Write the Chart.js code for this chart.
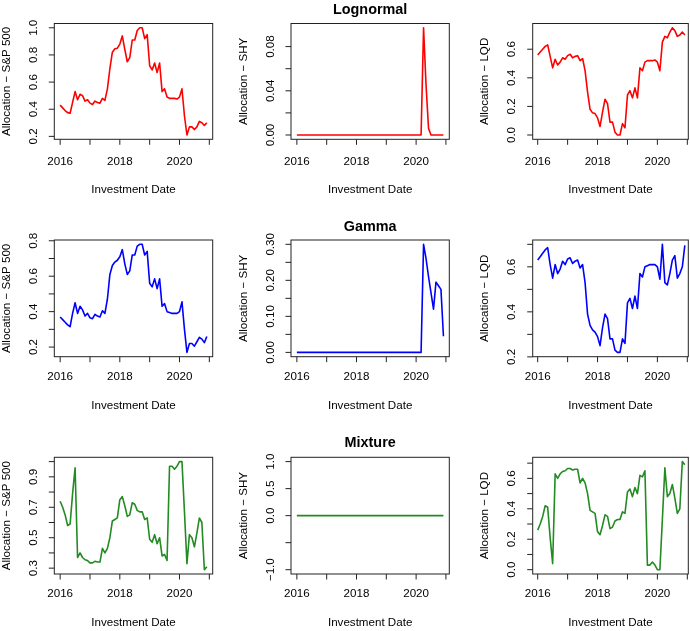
<!DOCTYPE html>
<html>
<head>
<meta charset="utf-8">
<script src="https://cdn.jsdelivr.net/npm/chart.js@4.4.1/dist/chart.umd.min.js"></script>
<style>
html, body { margin: 0; padding: 0; background: #fff; }
#wrap { position: relative; width: 690px; height: 631px; overflow: hidden; }
#wrap canvas { position: absolute; }
</style>
</head>
<body>
<div id="wrap"></div>
<script>
// Месяцы (ось X)
var months = [
  '2016-01','2016-02','2016-03','2016-04','2016-05','2016-06','2016-07','2016-08','2016-09','2016-10','2016-11','2016-12',
  '2017-01','2017-02','2017-03','2017-04','2017-05','2017-06','2017-07','2017-08','2017-09','2017-10','2017-11','2017-12',
  '2018-01','2018-02','2018-03','2018-04','2018-05','2018-06','2018-07','2018-08','2018-09','2018-10','2018-11','2018-12',
  '2019-01','2019-02','2019-03','2019-04','2019-05','2019-06','2019-07','2019-08','2019-09','2019-10','2019-11','2019-12',
  '2020-01','2020-02','2020-03','2020-04','2020-05','2020-06','2020-07','2020-08','2020-09','2020-10','2020-11','2020-12'
];

// Lognormal
var lognormalSP = [
  0.43,0.41,0.39,0.375,0.37,0.45,0.53,0.47,0.51,0.50,0.46,0.47,
  0.445,0.435,0.46,0.45,0.445,0.48,0.465,0.55,0.70,0.82,0.845,0.85,
  0.88,0.94,0.84,0.75,0.78,0.91,0.91,0.98,1.0,1.0,0.92,0.95,
  0.72,0.69,0.74,0.67,0.74,0.53,0.55,0.49,0.48,0.48,0.48,0.475,
  0.49,0.55,0.35,0.21,0.27,0.27,0.25,0.27,0.31,0.30,0.28,0.30
];
var lognormalSHY = [
  0,0,0,0,0,0,0,0,0,0,0,0,
  0,0,0,0,0,0,0,0,0,0,0,0,
  0,0,0,0,0,0,0,0,0,0,0,0,
  0,0,0,0,0,0,0,0,0,0,0,0,
  0,0,0,0.097,0.045,0.006,0,0,0,0,0,0
];
var lognormalLQD = [
  0.56,0.58,0.60,0.62,0.63,0.55,0.47,0.53,0.49,0.51,0.54,0.53,
  0.555,0.565,0.54,0.55,0.555,0.52,0.535,0.45,0.30,0.18,0.155,0.15,
  0.12,0.06,0.16,0.25,0.22,0.09,0.09,0.02,0.0,0.0,0.08,0.05,
  0.28,0.31,0.26,0.33,0.26,0.47,0.45,0.51,0.52,0.52,0.52,0.525,
  0.51,0.45,0.65,0.69,0.68,0.72,0.75,0.73,0.69,0.70,0.72,0.70
];

// Gamma
var gammaSP = [
  0.37,0.355,0.34,0.325,0.315,0.39,0.45,0.39,0.43,0.41,0.375,0.39,
  0.365,0.36,0.385,0.375,0.37,0.405,0.39,0.47,0.61,0.66,0.68,0.69,
  0.71,0.75,0.67,0.61,0.63,0.72,0.72,0.77,0.78,0.78,0.72,0.74,
  0.56,0.54,0.585,0.53,0.585,0.43,0.445,0.40,0.395,0.39,0.39,0.39,
  0.40,0.455,0.30,0.17,0.22,0.22,0.205,0.23,0.255,0.245,0.225,0.26
];
var gammaSHY = [
  0,0,0,0,0,0,0,0,0,0,0,0,
  0,0,0,0,0,0,0,0,0,0,0,0,
  0,0,0,0,0,0,0,0,0,0,0,0,
  0,0,0,0,0,0,0,0,0,0,0,0,
  0,0,0,0.30,0.26,0.21,0.165,0.12,0.195,0.185,0.175,0.045
];
var gammaLQD = [
  0.63,0.645,0.66,0.675,0.685,0.61,0.55,0.61,0.57,0.59,0.625,0.61,
  0.635,0.64,0.615,0.625,0.63,0.595,0.61,0.53,0.39,0.34,0.32,0.31,
  0.29,0.25,0.33,0.39,0.37,0.28,0.28,0.23,0.22,0.22,0.28,0.26,
  0.44,0.46,0.415,0.47,0.415,0.57,0.555,0.60,0.605,0.61,0.61,0.61,
  0.60,0.545,0.70,0.53,0.52,0.57,0.63,0.65,0.55,0.57,0.60,0.695
];

// Mixture
var mixtureSP = [
  0.74,0.70,0.65,0.58,0.59,0.79,0.96,0.37,0.40,0.37,0.355,0.35,
  0.335,0.335,0.345,0.34,0.34,0.43,0.40,0.43,0.50,0.61,0.62,0.63,
  0.75,0.77,0.71,0.64,0.65,0.73,0.72,0.68,0.67,0.67,0.62,0.63,
  0.49,0.47,0.52,0.46,0.50,0.38,0.39,0.35,0.97,0.97,0.95,0.97,
  1.0,1.0,0.67,0.33,0.52,0.50,0.44,0.53,0.63,0.60,0.29,0.31
];
var mixtureSHY = [
  0,0,0,0,0,0,0,0,0,0,0,0,
  0,0,0,0,0,0,0,0,0,0,0,0,
  0,0,0,0,0,0,0,0,0,0,0,0,
  0,0,0,0,0,0,0,0,0,0,0,0,
  0,0,0,0,0,0,0,0,0,0,0,0
];
var mixtureLQD = [
  0.26,0.30,0.35,0.42,0.41,0.21,0.04,0.63,0.60,0.63,0.645,0.65,
  0.665,0.665,0.655,0.66,0.66,0.57,0.60,0.57,0.50,0.39,0.38,0.37,
  0.25,0.23,0.29,0.36,0.35,0.27,0.28,0.32,0.33,0.33,0.38,0.37,
  0.51,0.53,0.48,0.54,0.50,0.62,0.61,0.65,0.03,0.03,0.05,0.03,
  0.0,0.0,0.33,0.67,0.48,0.50,0.56,0.47,0.37,0.40,0.71,0.69
];

// Деления осей
var xTicks = [2016, 2017, 2018, 2019, 2020, 2021];
var xTickLabels = ['2016', '', '2018', '', '2020', ''];

var ticksLogSP = [0.2, 0.4, 0.6, 0.8, 1.0];
var labelsLogSP = ['0.2', '0.4', '0.6', '0.8', '1.0'];
var ticksLogSHY = [0, 0.02, 0.04, 0.06, 0.08];
var labelsLogSHY = ['0.00', '', '0.04', '', '0.08'];
var ticksLogLQD = [0, 0.2, 0.4, 0.6];
var labelsLogLQD = ['0.0', '0.2', '0.4', '0.6'];
var ticksGamSP = [0.2, 0.3, 0.4, 0.5, 0.6, 0.7, 0.8];
var labelsGamSP = ['0.2', '', '0.4', '', '0.6', '', '0.8'];
var ticksGamSHY = [0, 0.05, 0.10, 0.15, 0.20, 0.25, 0.30];
var labelsGamSHY = ['0.00', '', '0.10', '', '0.20', '', '0.30'];
var ticksGamLQD = [0.2, 0.3, 0.4, 0.5, 0.6, 0.7];
var labelsGamLQD = ['0.2', '', '0.4', '', '0.6', ''];
var ticksMixSP = [0.3, 0.4, 0.5, 0.6, 0.7, 0.8, 0.9, 1.0];
var labelsMixSP = ['0.3', '', '0.5', '', '0.7', '', '0.9', ''];
var ticksMixSHY = [-1, -0.5, 0, 0.5, 1];
var labelsMixSHY = ['\u22121.0', '', '0.0', '0.5', '1.0'];
var ticksMixLQD = [0, 0.1, 0.2, 0.3, 0.4, 0.5, 0.6, 0.7];
var labelsMixLQD = ['0.0', '', '0.2', '', '0.4', '', '0.6', ''];

var rowTitles = ['Lognormal', 'Gamma', 'Mixture'];
var yTitles = ['Allocation \u2212 S&P 500', 'Allocation \u2212 SHY', 'Allocation \u2212 LQD'];
var xTitle = 'Investment Date';

// Разметка страницы
var colX = [0, 230, 460];
var rowY = [0, 210, 420];
var rowH = [210, 210, 211];
var colBox = [[54.3, 212.7], [291, 449.3], [532.7, 688.3]];
var rowBox = [[23.5, 139.3], [240, 356.7], [457.3, 574]];
var rowTickY = [161.5, 376.7, 594];
var rowXlabY = [189.3, 406, 622.3];
var rowTitleY = [10, 226.7, 443.3];
var col3Range = [2015.833, 2021.033];
var FONT = '"Liberation Sans", Arial, Helvetica, sans-serif';

var xValues = months.map(function(m) {
    var p = m.split('-');
    return +p[0] + (p[1] - 1) / 12;
});

// Диапазон как в R (+4% с каждой стороны)
function rRange(vals) {
    var lo = Math.min.apply(null, vals), hi = Math.max.apply(null, vals);
    if (hi === lo) {
        if (lo === 0) { lo = -1; hi = 1; } else { lo = lo * 0.6; hi = hi * 1.4; }
    }
    var d = (hi - lo) * 0.04;
    return [lo - d, hi + d];
}

var panels = [
    { row: 0, col: 0, values: lognormalSP,  color: '#FF0000', ticks: ticksLogSP,  labels: labelsLogSP },
    { row: 0, col: 1, values: lognormalSHY, color: '#FF0000', ticks: ticksLogSHY, labels: labelsLogSHY },
    { row: 0, col: 2, values: lognormalLQD, color: '#FF0000', ticks: ticksLogLQD, labels: labelsLogLQD },
    { row: 1, col: 0, values: gammaSP,      color: '#0000FF', ticks: ticksGamSP,  labels: labelsGamSP },
    { row: 1, col: 1, values: gammaSHY,     color: '#0000FF', ticks: ticksGamSHY, labels: labelsGamSHY },
    { row: 1, col: 2, values: gammaLQD,     color: '#0000FF', ticks: ticksGamLQD, labels: labelsGamLQD },
    { row: 2, col: 0, values: mixtureSP,    color: '#228B22', ticks: ticksMixSP,  labels: labelsMixSP },
    { row: 2, col: 1, values: mixtureSHY,   color: '#228B22', ticks: ticksMixSHY, labels: labelsMixSHY },
    { row: 2, col: 2, values: mixtureLQD,   color: '#228B22', ticks: ticksMixLQD, labels: labelsMixLQD }
];

var wrap = document.getElementById('wrap');

function makePanel(p) {
    var cellX = colX[p.col], cellY = rowY[p.row], w = 230, h = rowH[p.row];
    var canvas = document.createElement('canvas');
    canvas.width = w;
    canvas.height = h;
    canvas.style.left = cellX + 'px';
    canvas.style.top = cellY + 'px';
    wrap.appendChild(canvas);

    var boxL = colBox[p.col][0] - cellX, boxR = colBox[p.col][1] - cellX;
    var boxT = rowBox[p.row][0] - cellY, boxB = rowBox[p.row][1] - cellY;
    var yr = rRange(p.values);
    var xr = p.col === 2 ? col3Range : rRange(xValues);

    // Оси, рамка и подписи в стиле R
    var rAxes = {
        id: 'rAxes',
        afterDraw: function(chart) {
            var ctx = chart.ctx, a = chart.chartArea;
            var xs = chart.scales.x, ys = chart.scales.y;
            ctx.save();
            ctx.strokeStyle = '#222';
            ctx.lineWidth = 1;
            ctx.strokeRect(a.left, a.top, a.right - a.left, a.bottom - a.top);

            ctx.fillStyle = '#000';
            ctx.font = '11.6px ' + FONT;
            ctx.textAlign = 'center';
            ctx.textBaseline = 'middle';

            xTicks.forEach(function(v, i) {
                var px = xs.getPixelForValue(v);
                if (px < a.left - 0.5 || px > a.right + 0.5) return;
                ctx.beginPath();
                ctx.moveTo(px, a.bottom);
                ctx.lineTo(px, a.bottom + 5.5);
                ctx.stroke();
                if (xTickLabels[i]) ctx.fillText(xTickLabels[i], px, rowTickY[p.row] - cellY);
            });

            p.ticks.forEach(function(v, i) {
                var py = ys.getPixelForValue(v);
                ctx.beginPath();
                ctx.moveTo(a.left, py);
                ctx.lineTo(a.left - 5.5, py);
                ctx.stroke();
                if (p.labels[i]) {
                    ctx.save();
                    ctx.translate(a.left - 20.5, py);
                    ctx.rotate(-Math.PI / 2);
                    ctx.fillText(p.labels[i], 0, 0);
                    ctx.restore();
                }
            });

            // подписи осей
            ctx.fillText(xTitle, (a.left + a.right) / 2, rowXlabY[p.row] - cellY);
            ctx.save();
            ctx.translate(a.left - 47.5, (a.top + a.bottom) / 2);
            ctx.rotate(-Math.PI / 2);
            ctx.fillText(yTitles[p.col], 0, 0);
            ctx.restore();

            if (p.col === 1) {
                ctx.font = 'bold 14.4px ' + FONT;
                ctx.fillText(rowTitles[p.row], (a.left + a.right) / 2, rowTitleY[p.row] - cellY);
            }
            ctx.restore();
        }
    };

    new Chart(canvas, {
        type: 'line',
        data: {
            datasets: [{
                data: p.values.map(function(v, i) { return { x: xValues[i], y: v }; }),
                borderColor: p.color,
                borderWidth: 1.6,
                borderJoinStyle: 'round',
                pointRadius: 0,
                fill: false,
                tension: 0
            }]
        },
        options: {
            responsive: false,
            animation: false,
            devicePixelRatio: 1,
            layout: { padding: { left: boxL, right: w - boxR, top: boxT, bottom: h - boxB } },
            plugins: { legend: { display: false }, tooltip: { enabled: false } },
            scales: {
                x: { type: 'linear', display: false, min: xr[0], max: xr[1] },
                y: { type: 'linear', display: false, min: yr[0], max: yr[1] }
            }
        },
        plugins: [rAxes]
    });
}

panels.forEach(makePanel);
</script>
</body>
</html>
